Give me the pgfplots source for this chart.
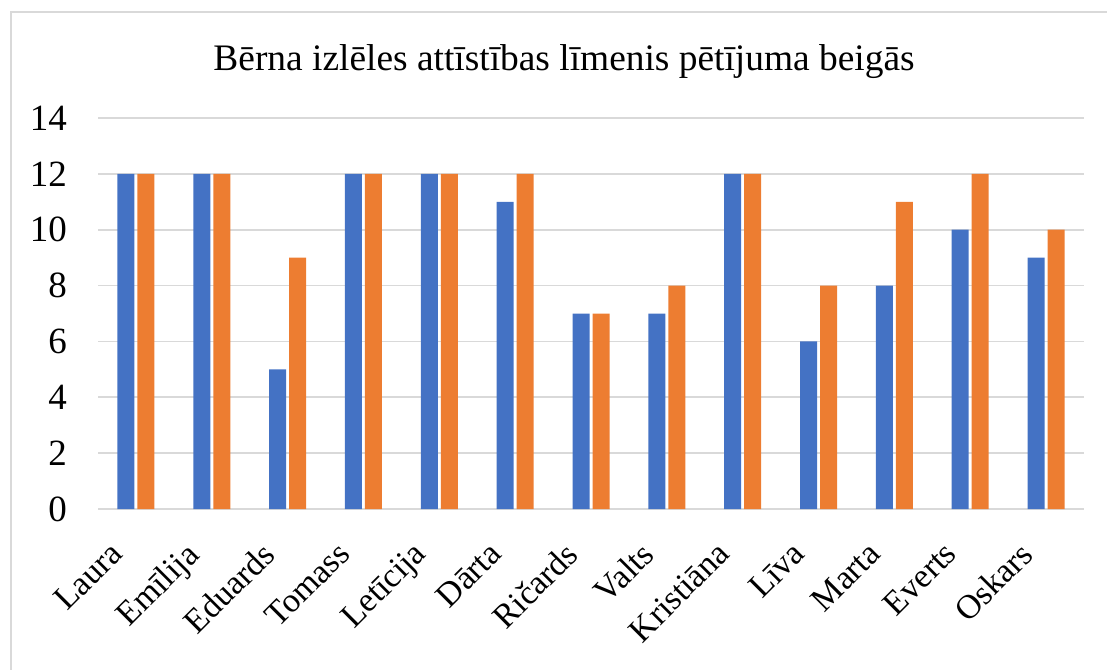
\documentclass[border=0pt]{standalone}
\usepackage{pgfplots}
\pgfplotsset{compat=1.18}
\usepackage{fontspec}
\setmainfont{Liberation Serif}
\definecolor{cblue}{HTML}{4472C4}
\definecolor{corange}{HTML}{ED7D31}
\definecolor{cgrid}{HTML}{D9D9D9}
\begin{document}
\begin{tikzpicture}[x=1pt,y=1pt]
\useasboundingbox (0,0) rectangle (553.5,334.5);
\clip (0,0) rectangle (553.5,334.5);
\draw[cgrid, line width=1pt] (5.5,-10) rectangle (600,328.5);
\node[font=\fontsize{18.7}{21}\selectfont] at (282,303.5) {Bērna izlēles attīstības līmenis pētījuma beigās};
\begin{axis}[
  at={(49pt,80pt)}, anchor=south west,
  scale only axis, width=493pt, height=195.5pt,
  xmin=-0.5, xmax=12.5, ymin=0, ymax=14,
  ytick={0,2,...,14},
  xtick={0,...,12},
  xticklabels={Laura,Emīlija,Eduards,Tomass,Letīcija,Dārta,Ričards,Valts,Kristiāna,Līva,Marta,Everts,Oskars},
  axis line style={draw=none},
  major tick length=0pt,
  ymajorgrids, grid style={cgrid, line width=0.8pt},
  yticklabel style={font=\fontsize{18.5}{20}\selectfont, xshift=-12pt},
  /pgf/number format/assume math mode=true,
  xticklabel style={font=\fontsize{17}{19}\selectfont, xshift=-13.9pt, yshift=-10.5pt, rotate=45, anchor=north east},
  ybar, bar width=8.5pt,
]
\addplot[fill=cblue, draw=none, bar shift=-5pt] coordinates {(0,12) (1,12) (2,5) (3,12) (4,12) (5,11) (6,7) (7,7) (8,12) (9,6) (10,8) (11,10) (12,9)};
\addplot[fill=corange, draw=none, bar shift=5pt] coordinates {(0,12) (1,12) (2,9) (3,12) (4,12) (5,12) (6,7) (7,8) (8,12) (9,8) (10,11) (11,12) (12,10)};
\end{axis}
\end{tikzpicture}
\end{document}
